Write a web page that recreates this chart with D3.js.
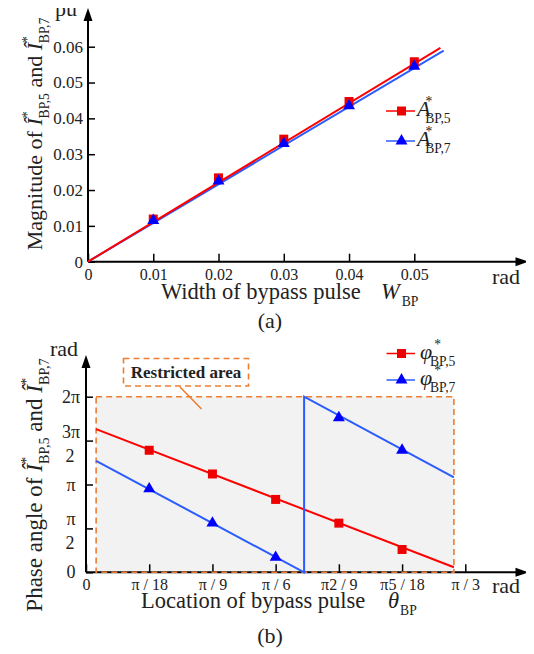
<!DOCTYPE html>
<meta charset="utf-8">
<script src="https://d3js.org/d3.v7.min.js"></script>
<div id="chart"></div>
<script>
// ---------- data (a): magnitude vs width of bypass pulse ----------
var widthVals = [0.01, 0.02, 0.03, 0.04, 0.05];
var amp5 = [0.0119, 0.0234, 0.0342, 0.0447, 0.0558];
var amp7 = [0.0115, 0.0225, 0.0330, 0.0435, 0.0545];
var amp5Line = [[0, 0], [0.054, 0.0597]];
var amp7Line = [[0, 0], [0.0545, 0.0589]];
var widthTicks = [0, 0.01, 0.02, 0.03, 0.04, 0.05];
var magTicks = [0, 0.01, 0.02, 0.03, 0.04, 0.05, 0.06];

// ---------- data (b): phase angle (x pi rad) vs location (deg) ----------
var locVals = [10, 20, 30, 40, 50];
var phase5 = [1.39, 1.12, 0.83, 0.56, 0.26];
var phase7 = [0.95, 0.56, 0.17, 1.76, 1.39];
var phase5Line = [[1.6, 1.63], [58.2, 0.057]];
var phase7Line = [[1.6, 1.27], [34.5, 0], [34.5, 2], [58.2, 1.08]];
var restricted = [1.6, 58.2];
var locTicks = [0, 10, 20, 30, 40, 50, 60];
var locTickLabels = ["0", "π / 18", "π / 9", "π / 6", "π2 / 9", "π5 / 18", "π / 3"];
var phaseTicks = [0, 0.5, 1, 1.5, 2];
var phaseTickLabels = [["0"], ["π", "2"], ["π"], ["3π", "2"], ["2π"]];

var red = "#ff0000", redMark = "#ee0000", blue = "#2b5cff", blueMark = "#0000ff", orange = "#ed7d31";
var serif = "'Liberation Serif', 'Times New Roman', serif";

// default body margin kept; viewBox moves the drawing back to the window corner
var svg = d3.select("#chart").append("svg")
  .attr("width", 534).attr("height", 654)
  .attr("viewBox", "8 8 534 654")
  .style("display", "block").style("font-family", serif);

// text with italic / superscript / subscript parts
function rich(sel, parts, fs) {
  var cur = 0;
  parts.forEach(function (p) {
    var off = p.k === "sup" ? -0.45 * fs : p.k === "sub" ? 0.32 * fs : 0;
    var t = sel.append("tspan").text(p.t).attr("dy", off - cur);
    cur = off;
    if (p.k) t.style("font-size", (0.62 * fs) + "px");
    if (p.i) t.style("font-style", "italic");
    if (p.dx) t.attr("dx", p.dx);
  });
}

function arrowAxes(g, x, y, x0, y0, xEnd, yEnd) {
  var ox = x(x0), oy = y(y0), tx = x(xEnd), ty = y(yEnd);
  g.append("line").attr("x1", ox).attr("y1", oy).attr("x2", tx - 8).attr("y2", oy)
    .attr("stroke", "#000").attr("stroke-width", 2);
  g.append("path").attr("d", "M" + tx + "," + oy + "L" + (tx - 13) + "," + (oy - 4.5) + "L" + (tx - 13) + "," + (oy + 4.5) + "Z");
  g.append("line").attr("x1", ox).attr("y1", oy).attr("x2", ox).attr("y2", ty + 8)
    .attr("stroke", "#000").attr("stroke-width", 2);
  g.append("path").attr("d", "M" + ox + "," + ty + "L" + (ox - 4.5) + "," + (ty + 13) + "L" + (ox + 4.5) + "," + (ty + 13) + "Z");
}

function styleAxis(g) {
  g.attr("font-family", null);
  g.select(".domain").remove();
  g.selectAll(".tick line").attr("stroke", "#000").attr("stroke-width", 1.5);
}

var sq = d3.symbol().type(d3.symbolSquare).size(81);
var tri = d3.symbol().type(d3.symbolTriangle).size(62);

// =================== panel (a) ===================
var xA = d3.scaleLinear().domain([0, 0.05]).range([88, 414.3]);
var yA = d3.scaleLinear().domain([0, 0.06]).range([261.7, 46.7]);
var gA = svg.append("g");

gA.append("g").attr("transform", "translate(0," + yA(0) + ")")
  .call(d3.axisBottom(xA).tickValues(widthTicks).tickSizeInner(-8).tickSizeOuter(0)
    .tickPadding(7).tickFormat(function (d) { return d === 0 ? "0" : d3.format(".2f")(d); }))
  .call(styleAxis)
  .selectAll(".tick text").style("font-size", "16px");
gA.append("g").attr("transform", "translate(" + xA(0) + ",0)")
  .call(d3.axisLeft(yA).tickValues(magTicks).tickSizeInner(-7).tickSizeOuter(0)
    .tickPadding(5).tickFormat(function (d) { return d === 0 ? "0" : d3.format(".2f")(d); }))
  .call(styleAxis)
  .selectAll(".tick text").style("font-size", "17px");
arrowAxes(gA, xA, yA, 0, 0, 0.0675, 0.0708);

var lineA = d3.line().x(function (d) { return xA(d[0]); }).y(function (d) { return yA(d[1]); });
gA.append("path").datum(amp7Line).attr("d", lineA).attr("fill", "none").attr("stroke", blue).attr("stroke-width", 2);
gA.append("path").datum(amp5Line).attr("d", lineA).attr("fill", "none").attr("stroke", red).attr("stroke-width", 2);
gA.selectAll(".sq").data(widthVals).enter().append("path")
  .attr("d", sq).attr("fill", redMark)
  .attr("transform", function (d, i) { return "translate(" + xA(d) + "," + yA(amp5[i]) + ")"; });
gA.selectAll(".tri").data(widthVals).enter().append("path")
  .attr("d", tri).attr("fill", blueMark)
  .attr("transform", function (d, i) { return "translate(" + xA(d) + "," + yA(amp7[i]) + ")"; });

// legend (a)
[{c: red, m: redMark, s: sq, y: 111, n: "5"}, {c: blue, m: blueMark, s: tri, y: 141, n: "7"}].forEach(function (l) {
  gA.append("line").attr("x1", 386).attr("x2", 415).attr("y1", l.y).attr("y2", l.y).attr("stroke", l.c).attr("stroke-width", 1.5);
  gA.append("path").attr("d", l.s).attr("fill", l.m).attr("transform", "translate(401.5," + l.y + ")");
  var t = gA.append("text").attr("x", 417).attr("y", l.y + 5).style("font-size", "22px");
  rich(t, [{t: "A", i: 1}, {t: "*", k: "sup", dx: -5}, {t: "BP," + l.n, k: "sub", dx: -7}], 22);
});

// labels (a)
gA.append("text").attr("x", 55).attr("y", 16).style("font-size", "22px").text("pu");
gA.append("text").attr("x", 492).attr("y", 284).style("font-size", "22px").text("rad");
gA.append("text").attr("x", 161).attr("y", 299).style("font-size", "22.5px").text("Width of bypass pulse");
var wl = gA.append("text").attr("x", 381).attr("y", 299).style("font-size", "22.5px");
rich(wl, [{t: "W", i: 1}, {t: "BP", k: "sub", dx: 2}], 22);
gA.append("text").attr("x", 270).attr("y", 328).attr("text-anchor", "middle").style("font-size", "22px").text("(a)");
var ylA = gA.append("text").attr("transform", "translate(41.5,134) rotate(-90)")
  .attr("text-anchor", "middle").style("font-size", "22px");
rich(ylA, [{t: "Magnitude of "}, {t: "Î", i: 1}, {t: "*", k: "sup"}, {t: "BP,5", k: "sub", dx: -7},
  {t: " and "}, {t: "Î", i: 1}, {t: "*", k: "sup"}, {t: "BP,7", k: "sub", dx: -7}], 22);

// =================== panel (b) ===================
var xB = d3.scaleLinear().domain([0, 60]).range([86, 465.3]);
var yB = d3.scaleLinear().domain([0, 2]).range([572.3, 396.7]);
var gB = svg.append("g");

// restricted area fill
gB.append("rect").attr("x", xB(restricted[0])).attr("y", yB(2))
  .attr("width", xB(restricted[1]) - xB(restricted[0])).attr("height", yB(0) - yB(2))
  .attr("fill", "#f2f2f2");

gB.append("g").attr("transform", "translate(0," + yB(0) + ")")
  .call(d3.axisBottom(xB).tickValues(locTicks).tickSizeInner(-8).tickSizeOuter(0)
    .tickPadding(6).tickFormat(function (d, i) { return locTickLabels[i]; }))
  .call(styleAxis)
  .selectAll(".tick text").style("font-size", "16px");
gB.append("g").attr("transform", "translate(" + xB(0) + ",0)")
  .call(d3.axisLeft(yB).tickValues(phaseTicks).tickSizeInner(-7).tickSizeOuter(0).tickFormat(""))
  .call(styleAxis);
arrowAxes(gB, xB, yB, 0, 0, 70, 2.475);

// y tick labels as stacked fractions
phaseTicks.forEach(function (v, i) {
  var lab = phaseTickLabels[i];
  if (lab.length === 1) {
    gB.append("text").attr("x", 71).attr("y", yB(v) + 6).attr("text-anchor", "middle")
      .style("font-size", "18px").text(lab[0]);
  } else {
    gB.append("text").attr("x", 71).attr("y", yB(v) - 3).attr("text-anchor", "middle")
      .style("font-size", "18px").text(lab[0]);
    gB.append("text").attr("x", 70).attr("y", yB(v) + 21).attr("text-anchor", "middle")
      .style("font-size", "18px").text(lab[1]);
  }
});

// restricted area outline
gB.append("rect").attr("x", xB(restricted[0])).attr("y", yB(2))
  .attr("width", xB(restricted[1]) - xB(restricted[0])).attr("height", yB(0) - yB(2))
  .attr("fill", "none").attr("stroke", orange).attr("stroke-width", 1.6).attr("stroke-dasharray", "6,4");

var lineB = d3.line().x(function (d) { return xB(d[0]); }).y(function (d) { return yB(d[1]); });
gB.append("path").datum(phase5Line).attr("d", lineB).attr("fill", "none").attr("stroke", red).attr("stroke-width", 2);
gB.append("path").datum(phase7Line).attr("d", lineB).attr("fill", "none").attr("stroke", blue).attr("stroke-width", 2);
gB.selectAll(".sq").data(locVals).enter().append("path")
  .attr("d", sq).attr("fill", redMark)
  .attr("transform", function (d, i) { return "translate(" + xB(d) + "," + yB(phase5[i]) + ")"; });
gB.selectAll(".tri").data(locVals).enter().append("path")
  .attr("d", tri).attr("fill", blueMark)
  .attr("transform", function (d, i) { return "translate(" + xB(d) + "," + yB(phase7[i]) + ")"; });

// restricted area label
gB.append("rect").attr("x", 123.5).attr("y", 358.5).attr("width", 125).attr("height", 27.5)
  .attr("fill", "#fff").attr("stroke", orange).attr("stroke-width", 1.6).attr("stroke-dasharray", "6,4");
gB.append("text").attr("x", 186).attr("y", 378).attr("text-anchor", "middle")
  .style("font-size", "17px").style("font-weight", "bold").text("Restricted area");
gB.append("line").attr("x1", 180).attr("y1", 387).attr("x2", 201.5).attr("y2", 409)
  .attr("stroke", orange).attr("stroke-width", 1.6);

// legend (b)
[{c: red, m: redMark, s: sq, y: 353.5, n: "5"}, {c: blue, m: blueMark, s: tri, y: 380, n: "7"}].forEach(function (l) {
  gB.append("line").attr("x1", 386.5).attr("x2", 415).attr("y1", l.y).attr("y2", l.y).attr("stroke", l.c).attr("stroke-width", 1.5);
  gB.append("path").attr("d", l.s).attr("fill", l.m).attr("transform", "translate(401.5," + l.y + ")");
  var t = gB.append("text").attr("x", 420).attr("y", l.y + 5).style("font-size", "22px");
  rich(t, [{t: "φ", i: 1}, {t: "*", k: "sup", dx: 2}, {t: "BP," + l.n, k: "sub", dx: -11}], 22);
});

// labels (b)
gB.append("text").attr("x", 50).attr("y", 356).style("font-size", "22px").text("rad");
gB.append("text").attr("x", 492).attr("y", 593).style("font-size", "22px").text("rad");
gB.append("text").attr("x", 141).attr("y", 608).style("font-size", "22.5px").text("Location of bypass pulse");
var tl = gB.append("text").attr("x", 388).attr("y", 608).style("font-size", "22.5px");
rich(tl, [{t: "θ", i: 1}, {t: "BP", k: "sub", dx: 1}], 22);
gB.append("text").attr("x", 270).attr("y", 643).attr("text-anchor", "middle").style("font-size", "22px").text("(b)");
var ylB = gB.append("text").attr("transform", "translate(41.5,485) rotate(-90)")
  .attr("text-anchor", "middle").style("font-size", "23px");
rich(ylB, [{t: "Phase angle of "}, {t: "Î", i: 1}, {t: "*", k: "sup"}, {t: "BP,5", k: "sub", dx: -7},
  {t: " and "}, {t: "Î", i: 1}, {t: "*", k: "sup"}, {t: "BP,7", k: "sub", dx: -7}], 23);

// serif face on every text, inline
svg.selectAll("text").style("font-family", serif).attr("fill", "#222");
</script>
